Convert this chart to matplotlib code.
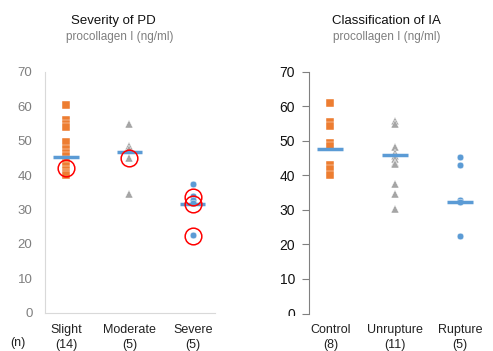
import numpy as np
import matplotlib.pyplot as plt
from matplotlib.patches import Rectangle

plt.rcParams['font.family'] = ['Liberation Sans', 'DejaVu Sans']

# Severity of PD
pd_groups = ['Slight\n(14)', 'Moderate\n(5)', 'Severe\n(5)']
pd_slight = [60.5, 56.0, 55.0, 54.0, 49.5, 47.5, 46.5, 45.5, 44.5, 43.5, 42.5, 41.5, 40.5, 40.0]
pd_moderate = [55.0, 48.5, 47.5, 45.0, 34.5]
pd_severe = [37.5, 33.8, 32.8, 31.9, 22.7]
pd_lines = [45.4, 46.8, 31.7]
# highlighted (red ring) values
pd_ring_group = [0, 1, 2, 2, 2]
pd_ring_value = [42.2, 44.9, 33.5, 31.7, 22.4]

# Classification of IA
ia_groups = ['Control\n(8)', 'Unrupture\n(11)', 'Rupture\n(5)']
ia_control = [60.8, 55.5, 54.3, 49.4, 48.5, 43.0, 41.7, 40.1]
ia_unrupture = [55.7, 55.0, 48.2, 46.5, 45.5, 44.8, 43.7, 43.3, 37.4, 34.5, 30.2]
ia_rupture = [45.4, 42.9, 32.8, 32.4, 22.5]
ia_lines = [47.5, 45.8, 32.4]

ORANGE = '#ED7D31'
GRAY = '#A5A5A5'
BLUE = '#5B9BD5'

W, H = 493, 351
fig = plt.figure(figsize=(W / 100, H / 100), dpi=100)


def px_axes(x0, y0, x1, y1):
    return fig.add_axes([x0 / W, 1 - y1 / H, (x1 - x0) / W, (y1 - y0) / H])


def draw_points(ax, groups):
    styles = [('s', ORANGE, 5.4), ('^', GRAY, 5.8), ('o', BLUE, 4.8)]
    for i, vals in enumerate(groups):
        m, c, s = styles[i]
        ax.plot([i] * len(vals), vals, linestyle='none', marker=m, color=c,
                markersize=s, markeredgecolor='white', markeredgewidth=0.3,
                zorder=3)


def draw_lines(ax, lines):
    for i, v in enumerate(lines):
        ax.plot([i - 0.2, i + 0.2], [v, v], color=BLUE, linewidth=2.5,
                solid_capstyle='butt', zorder=4)


# --- left panel ---
ax1 = px_axes(45, 72, 215, 312.5)
draw_points(ax1, [pd_slight, pd_moderate, pd_severe])
draw_lines(ax1, pd_lines)
ax1.plot(pd_ring_group, pd_ring_value, linestyle='none', marker='o',
         markersize=12, markerfacecolor='none', markeredgecolor='red',
         markeredgewidth=1.1, zorder=5)
ax1.set_xlim(-0.33, 2.35)
ax1.set_ylim(0, 70)
ax1.set_yticks(range(0, 71, 10))
ax1.set_xticks(range(3))
ax1.set_xticklabels(pd_groups, linespacing=1.35)
for sp in ['top', 'right']:
    ax1.spines[sp].set_visible(False)
ax1.spines['left'].set_color('#d9d9d9')
ax1.spines['bottom'].set_color('#d9d9d9')
ax1.tick_params(axis='y', length=0, pad=9, labelsize=9.5, labelcolor='#7f7f7f')
ax1.tick_params(axis='x', length=0, pad=8, labelsize=9, labelcolor='#222222')

# --- right panel ---
ax2 = px_axes(309, 71.7, 490, 313.5)
draw_points(ax2, [ia_control, ia_unrupture, ia_rupture])
draw_lines(ax2, ia_lines)
ax2.set_xlim(-0.33, 2.46)
ax2.set_ylim(0, 70)
ax2.set_yticks(range(0, 71, 10))
ax2.set_xticks(range(3))
ax2.set_xticklabels(ia_groups, linespacing=1.35)
for sp in ['top', 'right', 'bottom']:
    ax2.spines[sp].set_visible(False)
ax2.spines['left'].set_color('#808080')
ax2.tick_params(axis='y', length=5, width=0.8, color='#808080', pad=5,
                labelsize=10, labelcolor='#111111')
ax2.tick_params(axis='x', length=0, pad=7.5, labelsize=9, labelcolor='#222222')

# hide the lower part of the right "0" label, as in the original
fig.patches.append(Rectangle((276 / W, 0), 27 / W, (H - 316) / H,
                             transform=fig.transFigure, facecolor='white',
                             edgecolor='none', zorder=10))

# titles
fig.text(113 / W, 1 - 21 / H, 'Severity of PD', ha='center', va='center',
         fontsize=9.5, color='#111111')
fig.text(120 / W, 1 - 37 / H, 'procollagen I (ng/ml)', ha='center', va='center',
         fontsize=8.5, color='#7f7f7f')
fig.text(386 / W, 1 - 21 / H, 'Classification of IA', ha='center', va='center',
         fontsize=9.5, color='#111111')
fig.text(387 / W, 1 - 37 / H, 'procollagen I (ng/ml)', ha='center', va='center',
         fontsize=8.5, color='#7f7f7f')
fig.text(18 / W, 1 - 343 / H, '(n)', ha='center', va='center', fontsize=9,
         color='#222222')

fig.savefig('out.png', dpi=100)
